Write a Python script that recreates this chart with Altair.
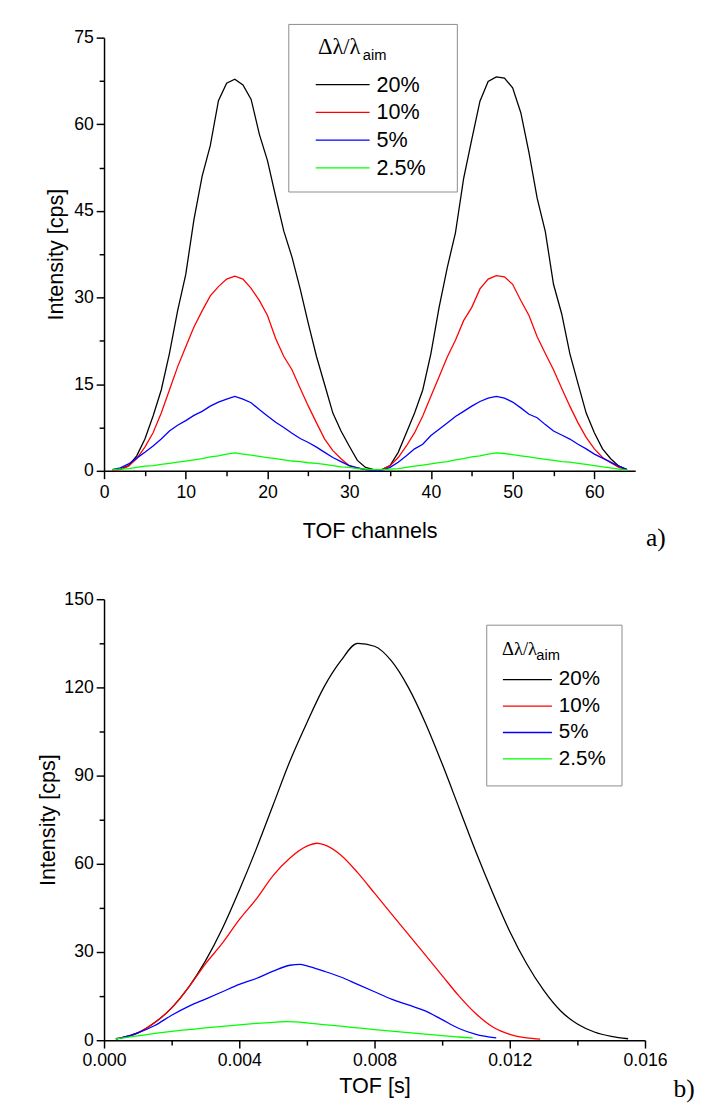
import altair as alt
import pandas as pd

# ---------------- data: panel a) ----------------
channels = list(range(1, 65))
top_20 = [0.2, 0.3, 0.9, 2.6, 5.5, 9.5, 14.0, 20.3, 27.7, 34.0, 43.5, 51.0, 56.3, 64.1, 67.1, 67.8,
          66.8, 64.3, 58.3, 53.7, 47.5, 41.5, 37.0, 31.5, 25.5, 19.8, 14.9, 10.0, 6.9, 4.3, 1.8, 0.6,
          0.2, 0.2, 0.9, 3.2, 6.6, 10.0, 14.0, 20.3, 28.3, 35.2, 41.2, 50.6, 57.4, 64.0, 67.4, 68.2,
          68.0, 66.3, 62.0, 55.1, 47.2, 41.4, 32.3, 27.2, 20.3, 15.1, 10.0, 6.6, 3.8, 2.1, 0.8, 0.2]
top_10 = [0.1, 0.2, 0.8, 2.1, 4.1, 6.6, 10.0, 14.0, 18.0, 21.5, 24.9, 27.7, 30.3, 31.9, 33.2, 33.7,
          33.2, 31.6, 29.5, 26.9, 22.9, 19.8, 17.5, 14.3, 11.2, 8.3, 5.5, 3.5, 2.1, 0.9, 0.5, 0.2,
          0.1, 0.2, 0.9, 2.3, 4.3, 6.6, 9.5, 12.9, 16.3, 19.7, 22.6, 26.0, 28.3, 31.5, 33.2, 33.8,
          33.6, 32.3, 29.5, 26.9, 23.2, 20.3, 17.5, 14.3, 11.2, 8.3, 5.8, 3.8, 2.3, 1.4, 0.6, 0.2]
top_5 = [0.2, 0.5, 1.2, 2.2, 3.2, 4.3, 5.5, 6.9, 7.9, 8.7, 9.6, 10.3, 11.2, 11.9, 12.4, 12.9,
         12.4, 11.8, 10.6, 9.5, 8.4, 7.5, 6.5, 5.6, 4.9, 4.1, 3.2, 2.3, 1.6, 0.9, 0.5, 0.2,
         0.1, 0.1, 0.6, 1.5, 2.6, 3.8, 4.6, 6.1, 7.2, 8.3, 9.4, 10.3, 11.2, 12.0, 12.6, 12.9,
         12.6, 11.9, 10.9, 9.8, 9.2, 8.0, 6.9, 6.2, 5.5, 4.6, 3.8, 2.9, 2.2, 1.5, 0.8, 0.2]
top_2_5 = [0.2, 0.3, 0.4, 0.6, 0.8, 0.9, 1.1, 1.3, 1.5, 1.7, 1.9, 2.1, 2.4, 2.6, 2.9, 3.1,
           2.9, 2.7, 2.5, 2.3, 2.1, 1.9, 1.7, 1.6, 1.4, 1.3, 1.1, 0.9, 0.7, 0.6, 0.4, 0.3,
           0.2, 0.2, 0.3, 0.4, 0.6, 0.8, 1.0, 1.2, 1.4, 1.6, 1.9, 2.1, 2.4, 2.6, 2.9, 3.1,
           3.0, 2.8, 2.6, 2.4, 2.2, 2.0, 1.8, 1.6, 1.5, 1.3, 1.1, 0.9, 0.7, 0.5, 0.3, 0.1]

# ---------------- data: panel b) ----------------
t_20 = [0.00035, 0.0005, 0.001, 0.0015, 0.002, 0.0025, 0.003, 0.0035, 0.004, 0.0045, 0.005, 0.0055,
        0.006, 0.0065, 0.007, 0.0075, 0.008, 0.0085, 0.009, 0.0095, 0.010, 0.0105, 0.011, 0.0115,
        0.012, 0.0125, 0.013, 0.0135, 0.014, 0.0145, 0.015, 0.0155]
v_20 = [0.5, 0.8, 2.5, 6, 11, 18, 27, 38, 51, 65, 80, 95,
        108, 120, 129, 135, 134, 129, 120, 108, 94, 79, 64, 50,
        37, 26, 17, 10, 5.5, 2.8, 1.3, 0.5]
t_10 = [0.00035, 0.0005, 0.001, 0.0015, 0.002, 0.0025, 0.003, 0.0035, 0.004, 0.0045, 0.005, 0.0055,
        0.006, 0.0063, 0.0065, 0.007, 0.0075, 0.008, 0.0085, 0.009, 0.0095, 0.010, 0.0105, 0.011,
        0.0115, 0.012, 0.0125, 0.0129]
v_10 = [0.5, 0.8, 2.5, 6, 11, 18, 26, 33, 41, 48, 56, 62,
        66, 67, 66.5, 63, 57, 50, 43, 36, 29, 22, 15, 9,
        4.5, 2, 0.8, 0.4]
t_5 = [0.00035, 0.0005, 0.001, 0.0015, 0.002, 0.0025, 0.003, 0.0035, 0.004, 0.0045, 0.005, 0.0055,
       0.0058, 0.006, 0.0065, 0.007, 0.0075, 0.008, 0.0085, 0.009, 0.0095, 0.010, 0.0105, 0.011, 0.0116]
v_5 = [0.5, 0.8, 2.5, 5, 8.5, 11.5, 14, 16.5, 19, 21, 23.5, 25.5,
       25.8, 25.3, 23.5, 21.5, 19, 16.5, 14, 12, 10, 7, 4, 2, 0.8]
t_2_5 = [0.00035, 0.0005, 0.001, 0.0015, 0.002, 0.0025, 0.003, 0.0035, 0.004, 0.0045, 0.005, 0.0054,
         0.006, 0.0065, 0.007, 0.0075, 0.008, 0.0085, 0.009, 0.0095, 0.010, 0.0105, 0.0109]
v_2_5 = [0.5, 0.7, 1.5, 2.3, 3, 3.6, 4.2, 4.7, 5.2, 5.7, 6.1, 6.3,
         5.9, 5.3, 4.8, 4.2, 3.6, 3.1, 2.6, 2.1, 1.6, 1.1, 0.8]

series_names = ["20%", "10%", "5%", "2.5%"]
series_colors = ["#000000", "#ff0000", "#0000ff", "#00ff00"]

rows = []
for name, vals in zip(series_names, [top_20, top_10, top_5, top_2_5]):
    for c, v in zip(channels, vals):
        rows.append({"x": c, "y": v, "series": name})
top_df = pd.DataFrame(rows)

rows = []
for name, ts, vs in zip(series_names, [t_20, t_10, t_5, t_2_5], [v_20, v_10, v_5, v_2_5]):
    for t, v in zip(ts, vs):
        rows.append({"x": t, "y": v, "series": name})
bot_df = pd.DataFrame(rows)

SANS = "Liberation Sans"
SERIF = "Liberation Serif"
color_scale = alt.Scale(domain=series_names, range=series_colors)


def axis(title, values, major_test, fmt=None, tick_major=8, tick_minor=5, title_pad=10, label_pad=4):
    kw = dict(
        title=title, values=values, grid=False,
        labelExpr=f"({major_test}) ? datum.label : ''",
        tickSize={"condition": {"test": major_test, "value": tick_major}, "value": tick_minor},
        labelFont=SANS, labelFontSize=18, labelColor="black",
        titleFont=SANS, titleFontSize=22, titleFontWeight="normal", titleColor="black",
        domainColor="black", domainWidth=1.5, tickColor="black", tickWidth=1.5,
        labelFlush=False, labelOverlap=False, labelPadding=label_pad, titlePadding=title_pad,
    )
    if fmt:
        kw["format"] = fmt
    return alt.Axis(**kw)


def legend(lx, ly, title, title_size, label_size, sym_len, pad, row_pad, sym_off, title_pad,
           label_tail=""):
    kw = dict(
        orient="none", legendX=lx, legendY=ly, direction="vertical",
        title=title, titleFont=SERIF, titleFontSize=title_size, titleFontWeight="normal",
        titleColor="black", titlePadding=title_pad,
        labelFont=SANS, labelFontSize=label_size, labelColor="black", labelOffset=6,
        symbolType="stroke", symbolSize=sym_len * sym_len, symbolStrokeWidth=1.3,
        symbolOffset=sym_off, padding=pad, rowPadding=row_pad, clipHeight=label_size,
        strokeColor="#8a8a8a",
    )
    if label_tail:
        kw["labelExpr"] = "datum.label + '" + label_tail + "'"
    return alt.Legend(**kw)


# ---------------- panel a) ----------------
top_lines = alt.Chart(top_df).mark_line(strokeWidth=1.3).encode(
    x=alt.X("x:Q", scale=alt.Scale(domain=[0, 65], nice=False, zero=False),
            axis=axis("TOF channels", list(range(0, 61, 5)), "datum.value % 10 === 0",
                      title_pad=20, label_pad=5)),
    y=alt.Y("y:Q", scale=alt.Scale(domain=[0, 75], nice=False),
            axis=axis("Intensity [cps]", [i * 7.5 for i in range(11)], "datum.value % 15 === 0",
                      title_pad=6, label_pad=3)),
    color=alt.Color("series:N", scale=color_scale, sort=series_names,
                    legend=legend(188, -14, "\u200b\u00a0\u00a0\u00a0Δλ/λ", 23, 22, 55, 13, 6.3, 14, 15,
                                  label_tail="\u00a0\u00a0\u00a0\u200b")),
    detail="series:N",
)
top_sub = alt.Chart(pd.DataFrame({"t": ["aim"]})).mark_text(
    align="left", baseline="alphabetic", font=SANS, fontSize=15, color="black"
).encode(text="t:N", x=alt.value(264), y=alt.value(23))
top_tag = alt.Chart(pd.DataFrame({"t": ["a)"]})).mark_text(
    align="left", baseline="middle", font=SERIF, fontSize=26, color="black"
).encode(text="t:N", x=alt.value(553), y=alt.value(511))
top = alt.layer(top_lines, top_sub, top_tag).properties(width=542, height=442)

# ---------------- panel b) ----------------
bot_lines = alt.Chart(bot_df).mark_line(strokeWidth=1.3, interpolate="monotone").encode(
    x=alt.X("x:Q", scale=alt.Scale(domain=[0, 0.016], nice=False, zero=False),
            axis=axis("TOF [s]", [i * 0.002 for i in range(9)],
                      "round(datum.value * 1000) % 4 === 0", fmt=".3f", title_pad=6)),
    y=alt.Y("y:Q", scale=alt.Scale(domain=[0, 150], nice=False),
            axis=axis("Intensity [cps]", list(range(0, 151, 15)), "datum.value % 30 === 0",
                      title_pad=4, label_pad=3)),
    color=alt.Color("series:N", scale=color_scale, sort=series_names,
                    legend=legend(390, 26, "Δλ/λ", 19, 21, 50, 16, 5, 0, 10.5)),
    detail="series:N",
)
bot_sub = alt.Chart(pd.DataFrame({"t": ["aim"]})).mark_text(
    align="left", baseline="alphabetic", font=SANS, fontSize=15, color="black"
).encode(text="t:N", x=alt.value(441), y=alt.value(62))
bot_tag = alt.Chart(pd.DataFrame({"t": ["b)"]})).mark_text(
    align="left", baseline="middle", font=SERIF, fontSize=26, color="black"
).encode(text="t:N", x=alt.value(581), y=alt.value(500))
bottom = alt.layer(bot_lines, bot_sub, bot_tag).properties(width=552, height=450)

chart = alt.vconcat(top, bottom, spacing=40).resolve_scale(
    color="independent"
).properties(
    padding={"left": 29, "top": 4, "right": 0, "bottom": 0},
    background="white",
).configure_view(stroke=None)

chart.save("out.html", embed_options={"renderer": "svg", "actions": False})
